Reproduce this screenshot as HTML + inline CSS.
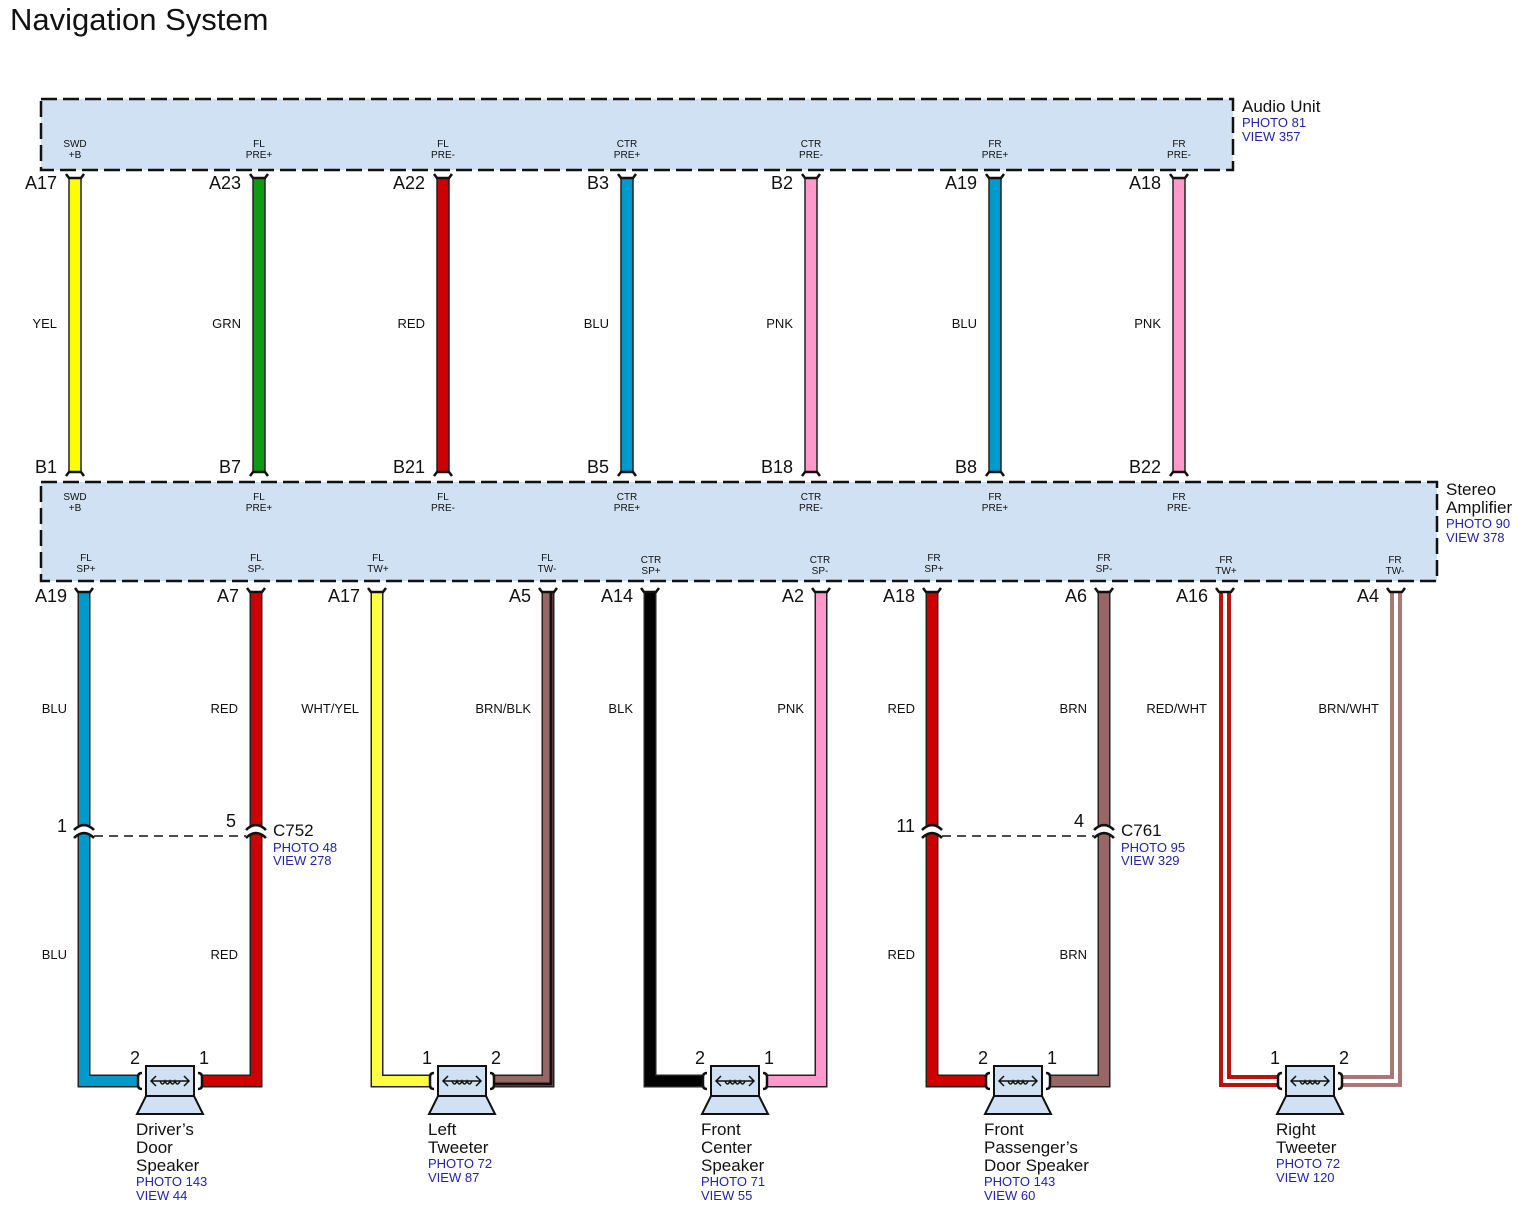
<!DOCTYPE html>
<html><head><meta charset="utf-8"><style>
body{margin:0;background:#fff}
svg{display:block;font-family:"Liberation Sans",sans-serif;font-size:17px;fill:#111}
.c{fill:none;stroke:#111;stroke-width:2.5}
.e{text-anchor:end;font-size:18px}.m{text-anchor:middle}
.b{fill:#2222aa;font-size:13px}
.t{font-size:10px;text-anchor:middle}
.l{font-size:13px;text-anchor:end}
.o{fill:none;stroke:#222;stroke-width:13}
.w{fill:none;stroke-width:10}
.d{fill:none;stroke-width:12}
.wh{fill:none;stroke:#fff;stroke-width:4}
.sp{fill:#cfe1f3;stroke:#111;stroke-width:2}
.ic{fill:none;stroke:#111;stroke-width:1.5}
</style></head><body>
<svg width="1534" height="1223" xmlns="http://www.w3.org/2000/svg">
<defs>
<g id="tw"><path class="c" d="M-9 174 L-6 178 L6 178 L9 174 M-9 476 L-6 472 L6 472 L9 476"/></g>
<g id="bc"><path class="c" d="M-9 588 L-6 592 L6 592 L9 588"/></g>
<g id="spk">
<polygon class="sp" points="-24,1096 24,1096 33,1114 -33,1114"/>
<rect class="sp" x="-24" y="1066" width="48" height="30"/>
<path class="ic" d="M-19 1081 L19 1081 M-14 1076 L-19 1081 L-14 1086 M14 1076 L19 1081 L14 1086 M-10 1081 q2.5 6 5 0 q2.5 6 5 0 q2.5 6 5 0 q2.5 6 5 0"/>
<path class="c" d="M-28 1073 q-4 0 -4 4 v8 q0 4 4 4 M28 1073 q4 0 4 4 v8 q0 4 -4 4"/>
</g>
<g id="spl"><rect x="-8" y="826" width="16" height="8" fill="#fff"/><path class="c" d="M-10 830 Q0 820 10 830 M-10 838 Q0 828 10 838"/></g>
<rect id="tr" x="-6" y="178" width="12" height="294" stroke="#222" stroke-width="1.5"/>
</defs>
<text x="10" y="30" font-size="31">Navigation System</text>
<rect x="41" y="99" width="1192" height="71" fill="#cfe1f3" stroke="#111" stroke-width="2.5" stroke-dasharray="16,6"/>
<rect x="41" y="482" width="1396" height="99" fill="#cfe1f3" stroke="#111" stroke-width="2.5" stroke-dasharray="16,6"/>
<text x="1242" y="112">Audio Unit</text>
<text x="1242" y="127" class="b">PHOTO 81</text>
<text x="1242" y="141" class="b">VIEW 357</text>
<text x="1446" y="495">Stereo</text>
<text x="1446" y="513">Amplifier</text>
<text x="1446" y="528" class="b">PHOTO 90</text>
<text x="1446" y="542" class="b">VIEW 378</text>

<g transform="translate(75,0)"><use href="#tr" fill="#ffff00"/><use href="#tw"/>
<text x="-18" y="189" class="e">A17</text><text x="-18" y="473" class="e">B1</text><text x="-18" y="328" class="l">YEL</text>
<text y="147" class="t">SWD</text><text y="158" class="t">+B</text><text y="500" class="t">SWD</text><text y="511" class="t">+B</text></g>
<g transform="translate(259,0)"><use href="#tr" fill="#119911"/><use href="#tw"/>
<text x="-18" y="189" class="e">A23</text><text x="-18" y="473" class="e">B7</text><text x="-18" y="328" class="l">GRN</text>
<text y="147" class="t">FL</text><text y="158" class="t">PRE+</text><text y="500" class="t">FL</text><text y="511" class="t">PRE+</text></g>
<g transform="translate(443,0)"><use href="#tr" fill="#cc0000"/><use href="#tw"/>
<text x="-18" y="189" class="e">A22</text><text x="-18" y="473" class="e">B21</text><text x="-18" y="328" class="l">RED</text>
<text y="147" class="t">FL</text><text y="158" class="t">PRE-</text><text y="500" class="t">FL</text><text y="511" class="t">PRE-</text></g>
<g transform="translate(627,0)"><use href="#tr" fill="#0099cc"/><use href="#tw"/>
<text x="-18" y="189" class="e">B3</text><text x="-18" y="473" class="e">B5</text><text x="-18" y="328" class="l">BLU</text>
<text y="147" class="t">CTR</text><text y="158" class="t">PRE+</text><text y="500" class="t">CTR</text><text y="511" class="t">PRE+</text></g>
<g transform="translate(811,0)"><use href="#tr" fill="#ff99cc"/><use href="#tw"/>
<text x="-18" y="189" class="e">B2</text><text x="-18" y="473" class="e">B18</text><text x="-18" y="328" class="l">PNK</text>
<text y="147" class="t">CTR</text><text y="158" class="t">PRE-</text><text y="500" class="t">CTR</text><text y="511" class="t">PRE-</text></g>
<g transform="translate(995,0)"><use href="#tr" fill="#0099cc"/><use href="#tw"/>
<text x="-18" y="189" class="e">A19</text><text x="-18" y="473" class="e">B8</text><text x="-18" y="328" class="l">BLU</text>
<text y="147" class="t">FR</text><text y="158" class="t">PRE+</text><text y="500" class="t">FR</text><text y="511" class="t">PRE+</text></g>
<g transform="translate(1179,0)"><use href="#tr" fill="#ff99cc"/><use href="#tw"/>
<text x="-18" y="189" class="e">A18</text><text x="-18" y="473" class="e">B22</text><text x="-18" y="328" class="l">PNK</text>
<text y="147" class="t">FR</text><text y="158" class="t">PRE-</text><text y="500" class="t">FR</text><text y="511" class="t">PRE-</text></g>

<path class="o" d="M84 592 V1081 H138"/><path class="w" stroke="#0099cc" d="M84 592 V1081 H138"/>
<path class="o" d="M256 592 V1081 H202"/><path class="w" stroke="#cc0000" d="M256 592 V1081 H202"/>
<path class="o" d="M377 592 V1081 H430"/><path class="w" stroke="#ffff44" d="M377 592 V1081 H430"/>
<path class="o" d="M548 592 V1081 H494"/><path class="w" stroke="#996666" d="M548 592 V1081 H494"/><path fill="none" stroke="#111" stroke-width="3" d="M551 592 V1084 H494"/>
<path class="o" d="M650 592 V1081 H703"/><path class="w" stroke="#000" d="M650 592 V1081 H703"/>
<path class="o" d="M821 592 V1081 H767"/><path class="w" stroke="#ff99cc" d="M821 592 V1081 H767"/>
<path class="o" d="M932 592 V1081 H986"/><path class="w" stroke="#cc0000" d="M932 592 V1081 H986"/>
<path class="o" d="M1104 592 V1081 H1050"/><path class="w" stroke="#996666" d="M1104 592 V1081 H1050"/>
<path class="d" stroke="#bb1111" d="M1225 592 V1081 H1278"/><path class="wh" d="M1225 592 V1081 H1278"/>
<path class="d" stroke="#aa7777" d="M1396 592 V1081 H1342"/><path class="wh" d="M1396 592 V1081 H1342"/>

<use href="#bc" x="84"/><use href="#bc" x="256"/><use href="#bc" x="377"/><use href="#bc" x="548"/><use href="#bc" x="650"/>
<use href="#bc" x="821"/><use href="#bc" x="932"/><use href="#bc" x="1104"/><use href="#bc" x="1225"/><use href="#bc" x="1396"/>

<g class="e">
<text x="67" y="602">A19</text><text x="239" y="602">A7</text><text x="360" y="602">A17</text><text x="531" y="602">A5</text><text x="633" y="602">A14</text>
<text x="804" y="602">A2</text><text x="915" y="602">A18</text><text x="1087" y="602">A6</text><text x="1208" y="602">A16</text><text x="1379" y="602">A4</text>
</g>
<g class="l">
<text x="67" y="713">BLU</text><text x="238" y="713">RED</text><text x="359" y="713">WHT/YEL</text><text x="531" y="713">BRN/BLK</text><text x="633" y="713">BLK</text>
<text x="804" y="713">PNK</text><text x="915" y="713">RED</text><text x="1087" y="713">BRN</text><text x="1207" y="713">RED/WHT</text><text x="1379" y="713">BRN/WHT</text>
<text x="67" y="959">BLU</text><text x="238" y="959">RED</text><text x="915" y="959">RED</text><text x="1087" y="959">BRN</text>
</g>
<g class="t">
<text x="86" y="561">FL</text><text x="86" y="572">SP+</text>
<text x="256" y="561">FL</text><text x="256" y="572">SP-</text>
<text x="378" y="561">FL</text><text x="378" y="572">TW+</text>
<text x="547" y="561">FL</text><text x="547" y="572">TW-</text>
<text x="651" y="563">CTR</text><text x="651" y="574">SP+</text>
<text x="820" y="563">CTR</text><text x="820" y="574">SP-</text>
<text x="934" y="561">FR</text><text x="934" y="572">SP+</text>
<text x="1104" y="561">FR</text><text x="1104" y="572">SP-</text>
<text x="1226" y="563">FR</text><text x="1226" y="574">TW+</text>
<text x="1395" y="563">FR</text><text x="1395" y="574">TW-</text>
</g>

<line x1="94" y1="836" x2="246" y2="836" stroke="#111" stroke-width="1.5" stroke-dasharray="9,6"/>
<line x1="942" y1="836" x2="1094" y2="836" stroke="#111" stroke-width="1.5" stroke-dasharray="9,6"/>
<use href="#spl" x="84"/><use href="#spl" x="256"/><use href="#spl" x="932"/><use href="#spl" x="1104"/>
<text x="67" y="832" class="e">1</text><text x="236" y="827" class="e">5</text>
<text x="915" y="832" class="e">11</text><text x="1084" y="827" class="e">4</text>
<text x="273" y="836">C752</text><text x="273" y="852" class="b">PHOTO 48</text><text x="273" y="865" class="b">VIEW 278</text>
<text x="1121" y="836">C761</text><text x="1121" y="852" class="b">PHOTO 95</text><text x="1121" y="865" class="b">VIEW 329</text>

<use href="#spk" x="170"/><use href="#spk" x="462"/><use href="#spk" x="735"/><use href="#spk" x="1018"/><use href="#spk" x="1310"/>
<g class="m" font-size="18">
<text x="135" y="1064">2</text><text x="204" y="1064">1</text>
<text x="427" y="1064">1</text><text x="496" y="1064">2</text>
<text x="700" y="1064">2</text><text x="769" y="1064">1</text>
<text x="983" y="1064">2</text><text x="1052" y="1064">1</text>
<text x="1275" y="1064">1</text><text x="1344" y="1064">2</text>
</g>
<text x="136" y="1135">Driver’s</text><text x="136" y="1153">Door</text><text x="136" y="1171">Speaker</text>
<text x="136" y="1186" class="b">PHOTO 143</text><text x="136" y="1200" class="b">VIEW 44</text>
<text x="428" y="1135">Left</text><text x="428" y="1153">Tweeter</text>
<text x="428" y="1168" class="b">PHOTO 72</text><text x="428" y="1182" class="b">VIEW 87</text>
<text x="701" y="1135">Front</text><text x="701" y="1153">Center</text><text x="701" y="1171">Speaker</text>
<text x="701" y="1186" class="b">PHOTO 71</text><text x="701" y="1200" class="b">VIEW 55</text>
<text x="984" y="1135">Front</text><text x="984" y="1153">Passenger’s</text><text x="984" y="1171">Door Speaker</text>
<text x="984" y="1186" class="b">PHOTO 143</text><text x="984" y="1200" class="b">VIEW 60</text>
<text x="1276" y="1135">Right</text><text x="1276" y="1153">Tweeter</text>
<text x="1276" y="1168" class="b">PHOTO 72</text><text x="1276" y="1182" class="b">VIEW 120</text>
</svg>
</body></html>
